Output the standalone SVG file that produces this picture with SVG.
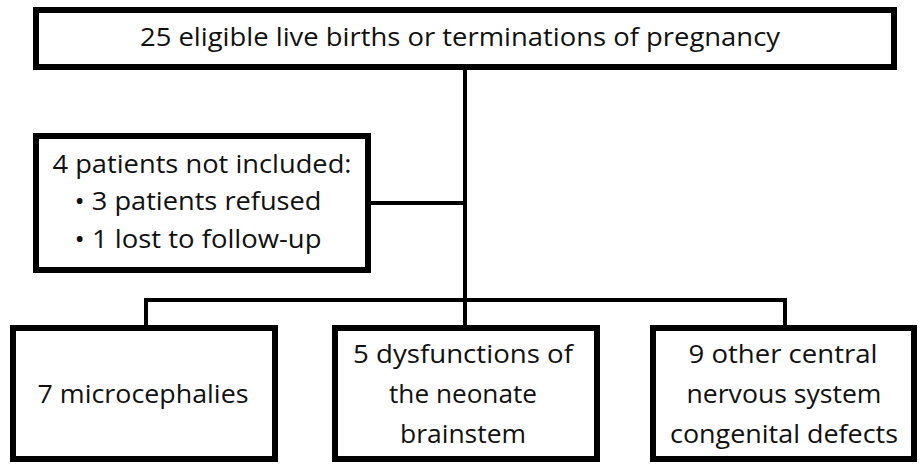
<svg xmlns="http://www.w3.org/2000/svg" width="920" height="464" viewBox="0 0 920 464">
<style>
.box{fill:#fff;stroke:#000;stroke-width:6}
.ln{stroke:#000;stroke-width:4;fill:none}
text{font-family:"Open Sans","Liberation Sans",sans-serif;font-size:25px;fill:#111;text-anchor:middle}
</style>
<rect width="920" height="464" fill="#fff"/>
<g id="connectors">
<path class="ln" d="M465,70 V327"/>
<path class="ln" d="M370,203 H465"/>
<path class="ln" d="M146,327 V300 H785 V327"/>
</g>
<g id="top">
<rect class="box" x="36" y="10" width="858" height="57"/>
<text x="460" y="46" textLength="640" lengthAdjust="spacingAndGlyphs">25 eligible live births or terminations of pregnancy</text>
</g>
<g id="excluded">
<rect class="box" x="36" y="136" width="332" height="134"/>
<text x="202" y="173" textLength="299" lengthAdjust="spacingAndGlyphs">4 patients not included:</text>
<text x="198" y="210" textLength="247" lengthAdjust="spacingAndGlyphs">• 3 patients refused</text>
<text x="198" y="248" textLength="247" lengthAdjust="spacingAndGlyphs">• 1 lost to follow-up</text>
</g>
<g id="micro">
<rect class="box" x="13" y="328" width="262" height="131"/>
<text x="143" y="403" textLength="211" lengthAdjust="spacingAndGlyphs">7 microcephalies</text>
</g>
<g id="brainstem">
<rect class="box" x="335" y="328" width="262" height="131"/>
<text x="463" y="363" textLength="220" lengthAdjust="spacingAndGlyphs">5 dysfunctions of</text>
<text x="463" y="403" textLength="148" lengthAdjust="spacingAndGlyphs">the neonate</text>
<text x="463" y="443" textLength="126" lengthAdjust="spacingAndGlyphs">brainstem</text>
</g>
<g id="cns">
<rect class="box" x="653" y="328" width="261" height="131"/>
<text x="783" y="363" textLength="189" lengthAdjust="spacingAndGlyphs">9 other central</text>
<text x="784" y="403" textLength="195" lengthAdjust="spacingAndGlyphs">nervous system</text>
<text x="784" y="443" textLength="228" lengthAdjust="spacingAndGlyphs">congenital defects</text>
</g>
</svg>
